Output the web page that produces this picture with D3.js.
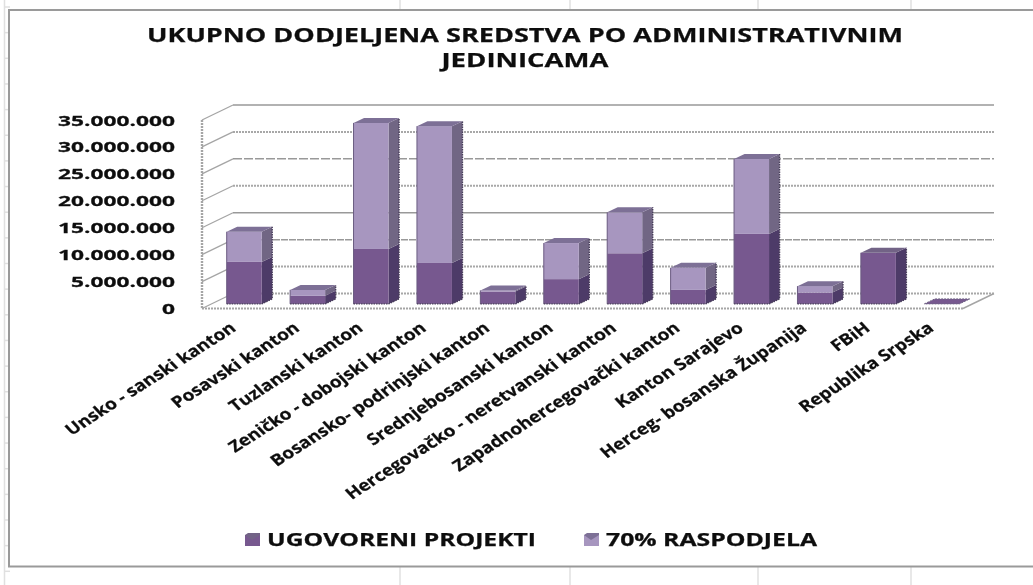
<!DOCTYPE html>
<html><head><meta charset="utf-8">
<script src="https://cdn.jsdelivr.net/npm/d3@7/dist/d3.min.js"></script>
<style>html,body{margin:0;padding:0;background:#fff;overflow:hidden}svg{display:block}
text{font-family:"Open Sans",sans-serif;font-weight:700;fill:#111;stroke:#111;stroke-width:.25}</style></head>
<body><script>
const categories=["Unsko - sanski kanton","Posavski kanton","Tuzlanski kanton","Zeničko - dobojski kanton","Bosansko- podrinjski kanton","Srednjebosanski kanton","Hercegovačko - neretvanski kanton","Zapadnohercegovački kanton","Kanton Sarajevo","Herceg- bosanska Županija","FBiH","Republika Srpska"];
const ugovoreni=[7800000,1500000,10200000,7600000,2300000,4600000,9400000,2600000,13000000,2100000,9500000,100000];
const raspodjela=[5600000,1100000,23400000,25400000,200000,6700000,7600000,4100000,13900000,1200000,0,0];
const yTicks=[0,5000000,10000000,15000000,20000000,25000000,30000000,35000000];
const gridDash=["2 1","2 1","7 1","","2 1","9 2","2 1",""];
const titleLines=[["UKUPNO DODJELJENA SREDSTVA PO ADMINISTRATIVNIM",756,42],["JEDINICAMA",167,67]];
const legendItems=[["UGOVORENI PROJEKTI",269],["70% RASPODJELA",211]];
const colors={dark:{front:"#77598f",side:"#4e3a68",top:"#726486"},light:{front:"#a796bf",side:"#716684",top:"#7d6f96"}};

const W=1033,H=585,depthX=31,depthY=15;
const svg=d3.select("body").append("svg").attr("width",W).attr("height",H);
const defs=svg.append("defs");
defs.append("filter").attr("id","soft").append("feGaussianBlur").attr("stdDeviation",0.4);
const root=svg.append("g").attr("filter","url(#soft)");
const x=d3.scaleBand().domain(categories).range([202,963]).paddingInner(0.448).paddingOuter(0.224);
const y=d3.scaleLinear().domain([0,35000000]).range([308.5,120]);
const fmt=v=>d3.format(",")(v).replace(/,/g,".");

// sheet grid behind the chart
root.append("rect").attr("width",W).attr("height",H).attr("fill","#fff");
const sheet=root.append("g").attr("stroke","#e0e0e0").attr("stroke-width",1.5);
[400,570,758,911].forEach(v=>{sheet.append("line").attr("x1",v).attr("x2",v).attr("y1",0).attr("y2",H);});
sheet.append("line").attr("x1",4.5).attr("x2",4.5).attr("y1",0).attr("y2",H);
d3.range(7,H,25.65).forEach(v=>{sheet.append("line").attr("x1",4).attr("x2",10).attr("y1",v).attr("y2",v);});
root.append("rect").attr("x",9).attr("y",10).attr("width",W).attr("height",556.5)
  .attr("fill","#fff").attr("stroke","#9a9a9a").attr("stroke-width",2);

// title
titleLines.forEach(([t,w,b])=>root.append("text").attr("x",525).attr("y",b).attr("text-anchor","middle")
  .attr("font-size",20).attr("textLength",w).attr("lengthAdjust","spacingAndGlyphs").text(t));

// walls and gridlines
const grid=root.append("g").attr("fill","none");
yTicks.forEach((v,i)=>{
  const yy=y(v);
  grid.append("line").attr("x1",x.range()[0]+depthX).attr("x2",x.range()[1]+depthX)
     .attr("y1",yy-depthY).attr("y2",yy-depthY).attr("stroke",gridDash[i]==="2 1"?"#a8a8a8":"#999")
     .attr("stroke-width",gridDash[i]==="2 1"?2:1.5).attr("stroke-dasharray",gridDash[i]||null);
  grid.append("line").attr("x1",x.range()[0]).attr("x2",x.range()[0]+depthX)
     .attr("y1",yy).attr("y2",yy-depthY).attr("stroke","#a5a5a5").attr("stroke-width",1.3);
});
grid.append("line").attr("x1",x.range()[0]).attr("x2",x.range()[0]).attr("y1",y(35000000)).attr("y2",y(0))
  .attr("stroke","#a5a5a5").attr("stroke-width",2.4).attr("stroke-dasharray","2 1");
grid.append("line").attr("x1",x.range()[0]).attr("x2",x.range()[1]).attr("y1",y(0)).attr("y2",y(0))
  .attr("stroke","#a5a5a5").attr("stroke-width",2).attr("stroke-dasharray","2 1");
grid.append("line").attr("x1",x.range()[1]).attr("x2",x.range()[1]+depthX).attr("y1",y(0)).attr("y2",y(0)-depthY)
  .attr("stroke","#a5a5a5").attr("stroke-width",1.4);

// y labels
yTicks.forEach(v=>{
  root.append("text").attr("transform",`translate(175,${y(v)+5.5}) scale(1.57,1)`)
   .attr("text-anchor","end").attr("font-size",14.5).text(fmt(v));
});

// 3D stacked bars
const dx=10.5,dy=5,floorX=10.5,floorY=4.6,bw=x.bandwidth();
const pts=a=>a.map(p=>p.join(",")).join(" ");
function box(g,x0,yb,yt,c,withTop){
  const x1=x0+bw;
  g.append("polygon").attr("points",pts([[x1,yb],[x1+dx,yb-dy],[x1+dx,yt-dy],[x1,yt]])).attr("fill",c.side);
  g.append("rect").attr("x",x0).attr("y",yt).attr("width",bw).attr("height",yb-yt).attr("fill",c.front);
  if(withTop) g.append("polygon").attr("points",pts([[x0,yt],[x0+dx,yt-dy],[x1+dx,yt-dy],[x1,yt]])).attr("fill",c.top);
}
const bars=root.append("g");
categories.forEach((cat,i)=>{
  const g=bars.append("g"),x0=x(cat)+floorX,u=ugovoreni[i],r=raspodjela[i];
  const Y=v=>y(v)-floorY;
  if(u<500000){
    g.append("polygon").attr("points",pts([[x0,Y(0)],[x0+dx,Y(0)-dy],[x0+bw+dx,Y(0)-dy],[x0+bw,Y(0)]]))
      .attr("fill",colors.dark.front).attr("stroke","#6f6384").attr("stroke-dasharray","2 1");
    return;
  }
  box(g,x0,Y(0),Y(u),colors.dark,r===0);
  if(r>0) box(g,x0,Y(u),Y(u+r),colors.light,true);
  g.append("path").attr("d",`M${x0},${Y(0)}V${Y(u+r)}`).attr("stroke","#6a5a80").attr("stroke-width",1).attr("fill","none");
  g.append("path").attr("d",`M${x0},${Y(0)}H${x0+bw}L${x0+bw+dx},${Y(0)-dy}V${Y(u+r)-dy}`)
   .attr("stroke","#4a3f5c").attr("stroke-width",1.4).attr("stroke-dasharray","1.5 1").attr("fill","none");
});

// category labels
categories.forEach(cat=>{
  const cx=x(cat)+floorX+bw/2-7;
  root.append("text").attr("transform",`translate(${cx},330) scale(1.2,1) rotate(-37.5)`)
    .attr("text-anchor","end").attr("font-size",15.8).attr("font-weight",600).text(cat);
});

// legend
let lx=[245,584];
legendItems.forEach(([t,w],i)=>{
  const c=i?colors.light:colors.dark,g=root.append("g");
  g.append("rect").attr("x",lx[i]).attr("y",535).attr("width",15).attr("height",11).attr("fill",c.front);
  g.append("polygon").attr("points",pts([[lx[i],535],[lx[i]+3,533],[lx[i]+15,533],[lx[i]+15,535],[lx[i]+7,540]])).attr("fill",c.top);
  root.append("text").attr("x",lx[i]+22).attr("y",546).attr("font-size",17).attr("textLength",w)
   .attr("lengthAdjust","spacingAndGlyphs").text(t);
});
</script></body></html>
